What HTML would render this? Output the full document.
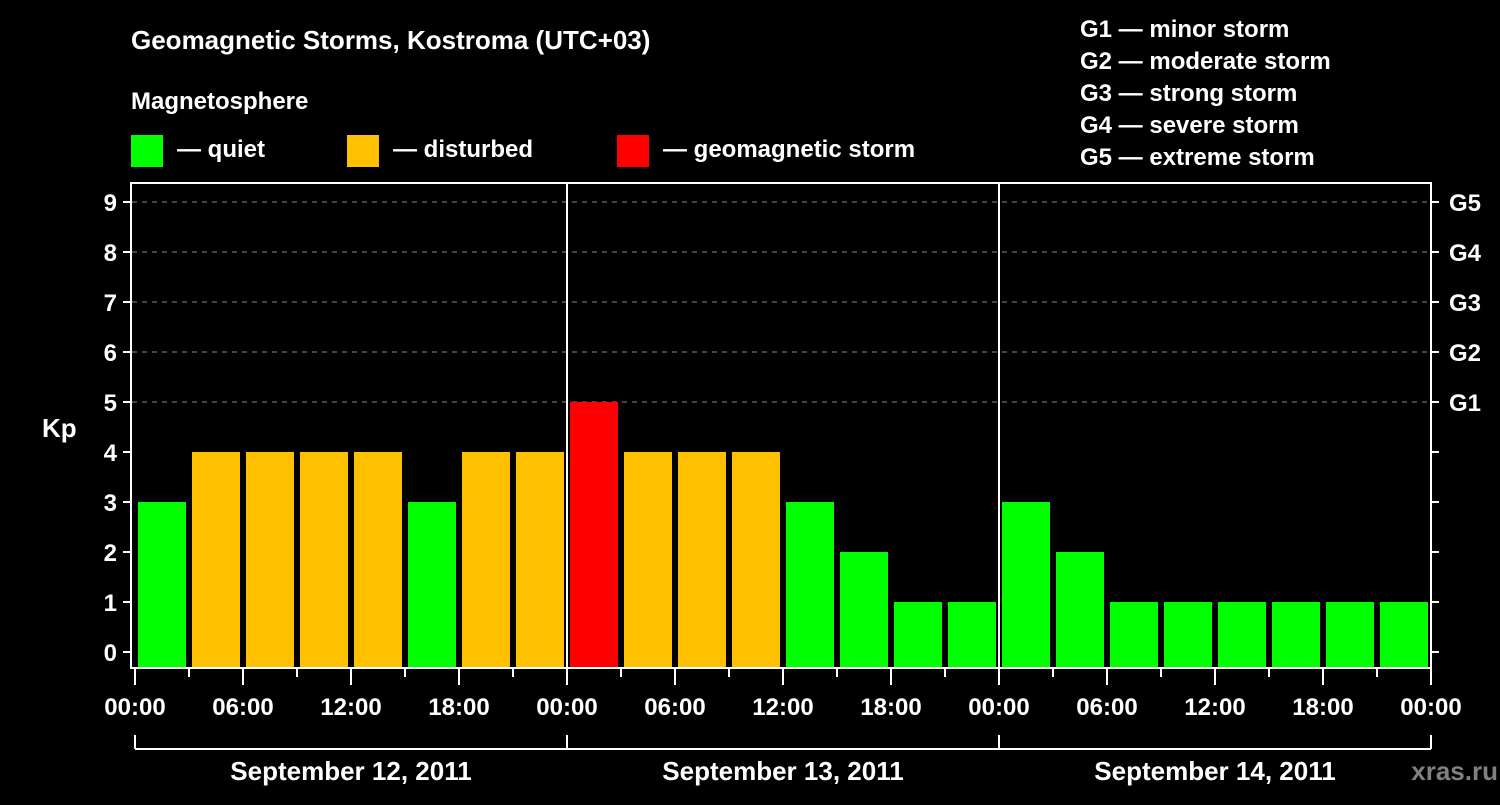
<!DOCTYPE html>
<html><head><meta charset="utf-8"><style>
body{margin:0;background:#000;width:1500px;height:800px;overflow:hidden;font-family:"Liberation Sans",Arial,sans-serif}
svg text{font-family:"Liberation Sans",Arial,sans-serif;font-weight:bold;fill:#fff}
</style></head><body>
<svg id="c" width="1500" height="800">
<text x="131" y="49" font-size="26">Geomagnetic Storms, Kostroma (UTC+03)</text>
<text x="131" y="109" font-size="24">Magnetosphere</text>
<g><rect x="131" y="135" width="32" height="32" fill="#00ff00"/><text x="177" y="157" font-size="24">— quiet</text></g>
<g><rect x="347" y="135" width="32" height="32" fill="#ffc000"/><text x="393" y="157" font-size="24">— disturbed</text></g>
<g><rect x="617" y="135" width="32" height="32" fill="#ff0000"/><text x="663" y="157" font-size="24">— geomagnetic storm</text></g>
<g font-size="24">
<text x="1080" y="37">G1 — minor storm</text>
<text x="1080" y="69">G2 — moderate storm</text>
<text x="1080" y="101">G3 — strong storm</text>
<text x="1080" y="133">G4 — severe storm</text>
<text x="1080" y="165">G5 — extreme storm</text>
</g>
<text x="42" y="437" font-size="26">Kp</text>
<text x="1498" y="780" font-size="26" text-anchor="end" style="fill:#808080">xras.ru</text>
<g id="grid"></g><g id="bars"></g><g id="axes"></g>
</svg>
<script>
const kpValues=[3,4,4,4,4,3,4,4, 5,4,4,4,3,2,1,1, 3,2,1,1,1,1,1,1];
const yTicks=[0,1,2,3,4,5,6,7,8,9];
const gLabels=["G1","G2","G3","G4","G5"];
const gLevels=[5,6,7,8,9];
const hourLabels=["00:00","06:00","12:00","18:00"];
const dayLabels=["September 12, 2011","September 13, 2011","September 14, 2011"];
const NS="http://www.w3.org/2000/svg";
const X0=135,HOUR=18,Y0=652,UNIT=50,TOP=183,BOT=667,RIGHT=1431;
const xs=h=>X0+h*HOUR, ys=v=>Y0-v*UNIT;
function mk(p,tag,a){const e=document.createElementNS(NS,tag);for(const k in a)e.setAttribute(k,a[k]);document.getElementById(p).appendChild(e);return e;}
function col(v){return v>=5?"#ff0000":v===4?"#ffc000":"#00ff00";}
yTicks.forEach(v=>{if(v>=5){const l=mk("grid","line",{x1:132,x2:RIGHT,y1:ys(v),y2:ys(v),stroke:"#888","stroke-width":1,"stroke-dasharray":"5,5"});

}});
kpValues.forEach((v,i)=>{const r=mk("bars","rect",{x:xs(i*3)+3,y:ys(v),width:48,height:BOT-ys(v),fill:col(v)});

});
const f=mk("axes","rect",{x:131,y:TOP,width:RIGHT-131,height:BOT+1-TOP,fill:"none",stroke:"#fff","stroke-width":2});


yTicks.forEach(v=>{mk("axes","line",{x1:123,x2:131,y1:ys(v),y2:ys(v),stroke:"#fff","stroke-width":2});
mk("axes","line",{x1:RIGHT,x2:RIGHT+8,y1:ys(v),y2:ys(v),stroke:"#fff","stroke-width":2});
const t=mk("axes","text",{x:117,y:ys(v)+9,"font-size":24,"text-anchor":"end"});t.textContent=v;

});
gLabels.forEach((g,i)=>{const t=mk("axes","text",{x:1449,y:ys(gLevels[i])+9,"font-size":24});t.textContent=g;

});
for(let d=1;d<3;d++){const l=mk("axes","line",{x1:xs(d*24),x2:xs(d*24),y1:TOP,y2:BOT,stroke:"#fff","stroke-width":2});

}
for(let h=0;h<=72;h+=3){const big=h%6===0;mk("axes","line",{x1:xs(h),x2:xs(h),y1:BOT,y2:BOT+(big?18:10),stroke:"#fff","stroke-width":2});
if(big){const t=mk("axes","text",{x:xs(h),y:715,"font-size":24,"text-anchor":"middle"});t.textContent=hourLabels[(h/6)%4];

}}
mk("axes","line",{x1:xs(0),x2:xs(72),y1:749,y2:749,stroke:"#fff","stroke-width":2});
for(let d=0;d<=3;d++)mk("axes","line",{x1:xs(d*24),x2:xs(d*24),y1:735,y2:749,stroke:"#fff","stroke-width":2});
dayLabels.forEach((s,d)=>{const t=mk("axes","text",{x:xs(d*24+12),y:780,"font-size":26,"text-anchor":"middle"});t.textContent=s;

});
</script>
</body></html>
